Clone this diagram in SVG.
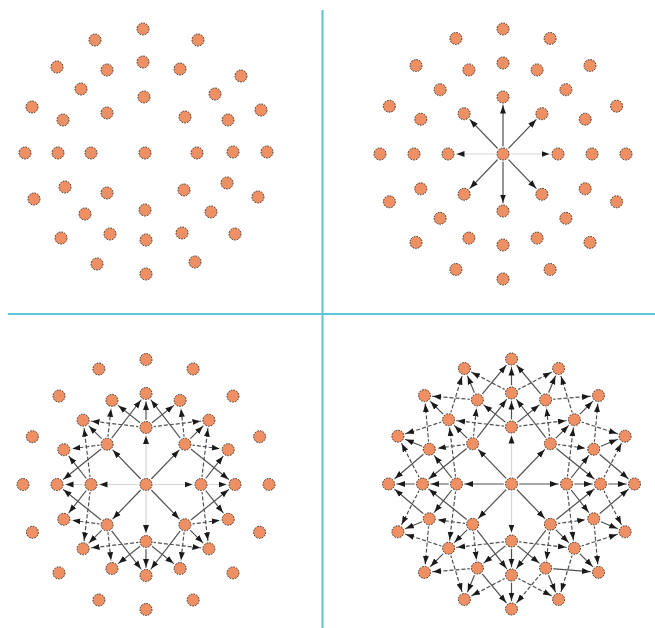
<svg xmlns="http://www.w3.org/2000/svg" xmlns:xlink="http://www.w3.org/1999/xlink" width="655" height="628" viewBox="0 0 655 628">
<style>
.div{stroke:#5cc6d8;stroke-width:2;fill:none}
.s,.d,.f{fill:none;stroke-width:1.2;marker-end:url(#ah)}
.s{stroke:#505050}
.d{stroke:#505050;stroke-dasharray:4 2}
.f{stroke:#d6d6d6}
.nc{fill:#ee9063;stroke:#3b2b22;stroke-width:1;stroke-dasharray:1.6 1.2}
.halo{fill:#fff}
</style>
<defs>
<marker id="ah" markerUnits="userSpaceOnUse" viewBox="0 0 17 10" markerWidth="17" markerHeight="10" refX="16.5" refY="5" orient="auto">
<path d="M0,2 L8,5 L0,8 Z" fill="#1a1a1a"/>
</marker>
<g id="nd"><circle class="halo" r="7.8"/><circle class="nc" r="6"/></g>
</defs>
<rect width="655" height="628" fill="#fff"/>
<g id="dividers">
<line class="div" x1="322.5" y1="10" x2="322.5" y2="628"/>
<line class="div" x1="8" y1="314" x2="655" y2="314"/>
</g>

<g id="q1">
<g id="q1-nodes">
<g id="q1-o" transform="translate(145 153)"><use href="#nd"/></g>
<g id="q1-a0" transform="translate(197 153)"><use href="#nd"/></g>
<g id="q1-a2" transform="translate(185 117)"><use href="#nd"/></g>
<g id="q1-a4" transform="translate(144 97)"><use href="#nd"/></g>
<g id="q1-a6" transform="translate(107 113)"><use href="#nd"/></g>
<g id="q1-a8" transform="translate(91 153)"><use href="#nd"/></g>
<g id="q1-a10" transform="translate(107 193)"><use href="#nd"/></g>
<g id="q1-a12" transform="translate(145 210)"><use href="#nd"/></g>
<g id="q1-a14" transform="translate(184 190)"><use href="#nd"/></g>
<g id="q1-b0" transform="translate(233 152)"><use href="#nd"/></g>
<g id="q1-b1" transform="translate(228 120)"><use href="#nd"/></g>
<g id="q1-b2" transform="translate(215 94)"><use href="#nd"/></g>
<g id="q1-b3" transform="translate(180 69)"><use href="#nd"/></g>
<g id="q1-b4" transform="translate(143 62)"><use href="#nd"/></g>
<g id="q1-b5" transform="translate(107 70)"><use href="#nd"/></g>
<g id="q1-b6" transform="translate(81 89)"><use href="#nd"/></g>
<g id="q1-b7" transform="translate(63 120)"><use href="#nd"/></g>
<g id="q1-b8" transform="translate(58 153)"><use href="#nd"/></g>
<g id="q1-b9" transform="translate(65 187)"><use href="#nd"/></g>
<g id="q1-b10" transform="translate(85 214)"><use href="#nd"/></g>
<g id="q1-b11" transform="translate(110 234)"><use href="#nd"/></g>
<g id="q1-b12" transform="translate(146 240)"><use href="#nd"/></g>
<g id="q1-b13" transform="translate(182 233)"><use href="#nd"/></g>
<g id="q1-b14" transform="translate(211 212)"><use href="#nd"/></g>
<g id="q1-b15" transform="translate(227 183)"><use href="#nd"/></g>
<g id="q1-c0" transform="translate(267 152)"><use href="#nd"/></g>
<g id="q1-c1" transform="translate(261 110)"><use href="#nd"/></g>
<g id="q1-c2" transform="translate(241 76)"><use href="#nd"/></g>
<g id="q1-c3" transform="translate(198 40)"><use href="#nd"/></g>
<g id="q1-c4" transform="translate(143 29)"><use href="#nd"/></g>
<g id="q1-c5" transform="translate(95 40)"><use href="#nd"/></g>
<g id="q1-c6" transform="translate(57 67)"><use href="#nd"/></g>
<g id="q1-c7" transform="translate(32 107)"><use href="#nd"/></g>
<g id="q1-c8" transform="translate(25 153)"><use href="#nd"/></g>
<g id="q1-c9" transform="translate(34 199)"><use href="#nd"/></g>
<g id="q1-c10" transform="translate(61 238)"><use href="#nd"/></g>
<g id="q1-c11" transform="translate(97 264)"><use href="#nd"/></g>
<g id="q1-c12" transform="translate(146 274)"><use href="#nd"/></g>
<g id="q1-c13" transform="translate(195 262)"><use href="#nd"/></g>
<g id="q1-c14" transform="translate(235 234)"><use href="#nd"/></g>
<g id="q1-c15" transform="translate(258 197)"><use href="#nd"/></g>
</g>
</g>

<g id="q2" transform="translate(503 154)">
<g id="q2-edges">
<path class="f" d="M0 0L55 0"/>
<path class="f" d="M0 0L-55 0"/>
<path class="s" d="M0 0L0-57"/>
<path class="s" d="M0 0L0 57"/>
<path class="s" d="M0 0L38.9-40.3"/>
<path class="s" d="M0 0L-38.9-40.3"/>
<path class="s" d="M0 0L-38.9 40.3"/>
<path class="s" d="M0 0L38.9 40.3"/>
</g>
<g id="q2-nodes">
<g id="q2-o"><use href="#nd"/></g>
<g id="q2-a0" transform="translate(55 0)"><use href="#nd"/></g>
<g id="q2-a2" transform="translate(38.9 -40.3)"><use href="#nd"/></g>
<g id="q2-a4" transform="translate(0 -57)"><use href="#nd"/></g>
<g id="q2-a6" transform="translate(-38.9 -40.3)"><use href="#nd"/></g>
<g id="q2-a8" transform="translate(-55 0)"><use href="#nd"/></g>
<g id="q2-a10" transform="translate(-38.9 40.3)"><use href="#nd"/></g>
<g id="q2-a12" transform="translate(0 57)"><use href="#nd"/></g>
<g id="q2-a14" transform="translate(38.9 40.3)"><use href="#nd"/></g>
<g id="q2-b0" transform="translate(89 0)"><use href="#nd"/></g>
<g id="q2-b1" transform="translate(82.2 -34.8)"><use href="#nd"/></g>
<g id="q2-b2" transform="translate(62.9 -64.3)"><use href="#nd"/></g>
<g id="q2-b3" transform="translate(34.1 -84.1)"><use href="#nd"/></g>
<g id="q2-b4" transform="translate(0 -91)"><use href="#nd"/></g>
<g id="q2-b5" transform="translate(-34.1 -84.1)"><use href="#nd"/></g>
<g id="q2-b6" transform="translate(-62.9 -64.3)"><use href="#nd"/></g>
<g id="q2-b7" transform="translate(-82.2 -34.8)"><use href="#nd"/></g>
<g id="q2-b8" transform="translate(-89 0)"><use href="#nd"/></g>
<g id="q2-b9" transform="translate(-82.2 34.8)"><use href="#nd"/></g>
<g id="q2-b10" transform="translate(-62.9 64.3)"><use href="#nd"/></g>
<g id="q2-b11" transform="translate(-34.1 84.1)"><use href="#nd"/></g>
<g id="q2-b12" transform="translate(0 91)"><use href="#nd"/></g>
<g id="q2-b13" transform="translate(34.1 84.1)"><use href="#nd"/></g>
<g id="q2-b14" transform="translate(62.9 64.3)"><use href="#nd"/></g>
<g id="q2-b15" transform="translate(82.2 34.8)"><use href="#nd"/></g>
<g id="q2-c0" transform="translate(123 0)"><use href="#nd"/></g>
<g id="q2-c1" transform="translate(113.6 -47.8)"><use href="#nd"/></g>
<g id="q2-c2" transform="translate(87 -88.4)"><use href="#nd"/></g>
<g id="q2-c3" transform="translate(47.1 -115.5)"><use href="#nd"/></g>
<g id="q2-c4" transform="translate(0 -125)"><use href="#nd"/></g>
<g id="q2-c5" transform="translate(-47.1 -115.5)"><use href="#nd"/></g>
<g id="q2-c6" transform="translate(-87 -88.4)"><use href="#nd"/></g>
<g id="q2-c7" transform="translate(-113.6 -47.8)"><use href="#nd"/></g>
<g id="q2-c8" transform="translate(-123 0)"><use href="#nd"/></g>
<g id="q2-c9" transform="translate(-113.6 47.8)"><use href="#nd"/></g>
<g id="q2-c10" transform="translate(-87 88.4)"><use href="#nd"/></g>
<g id="q2-c11" transform="translate(-47.1 115.5)"><use href="#nd"/></g>
<g id="q2-c12" transform="translate(0 125)"><use href="#nd"/></g>
<g id="q2-c13" transform="translate(47.1 115.5)"><use href="#nd"/></g>
<g id="q2-c14" transform="translate(87 88.4)"><use href="#nd"/></g>
<g id="q2-c15" transform="translate(113.6 47.8)"><use href="#nd"/></g>
</g>
</g>

<g id="q3" transform="translate(146 484.5)">
<g id="q3-edges">
<path class="f" d="M0 0L55 0"/>
<path class="f" d="M0 0L0-57"/>
<path class="f" d="M0 0L-55 0"/>
<path class="f" d="M0 0L0 57"/>
<path class="s" d="M0 0L38.9-40.3"/>
<path class="s" d="M0 0L-38.9-40.3"/>
<path class="s" d="M0 0L-38.9 40.3"/>
<path class="s" d="M0 0L38.9 40.3"/>
<path class="s" d="M38.9-40.3L62.9-64.3"/>
<path class="s" d="M38.9-40.3L89 0"/>
<path class="s" d="M38.9-40.3L0-91"/>
<path class="d" d="M38.9-40.3L82.2-34.8"/>
<path class="d" d="M38.9-40.3L34.1-84.1"/>
<path class="s" d="M-38.9-40.3L-62.9-64.3"/>
<path class="s" d="M-38.9-40.3L0-91"/>
<path class="s" d="M-38.9-40.3L-89 0"/>
<path class="d" d="M-38.9-40.3L-34.1-84.1"/>
<path class="d" d="M-38.9-40.3L-82.2-34.8"/>
<path class="s" d="M-38.9 40.3L-62.9 64.3"/>
<path class="s" d="M-38.9 40.3L-89 0"/>
<path class="s" d="M-38.9 40.3L0 91"/>
<path class="d" d="M-38.9 40.3L-82.2 34.8"/>
<path class="d" d="M-38.9 40.3L-34.1 84.1"/>
<path class="s" d="M38.9 40.3L62.9 64.3"/>
<path class="s" d="M38.9 40.3L0 91"/>
<path class="s" d="M38.9 40.3L89 0"/>
<path class="d" d="M38.9 40.3L34.1 84.1"/>
<path class="d" d="M38.9 40.3L82.2 34.8"/>
<path class="f" d="M55 0L89 0"/>
<path class="s" d="M55 0L82.2-34.8"/>
<path class="s" d="M55 0L82.2 34.8"/>
<path class="d" d="M55 0L62.9-64.3"/>
<path class="d" d="M55 0L62.9 64.3"/>
<path class="s" d="M0-57L0-91"/>
<path class="s" d="M0-57L34.1-84.1"/>
<path class="s" d="M0-57L-34.1-84.1"/>
<path class="d" d="M0-57L62.9-64.3"/>
<path class="d" d="M0-57L-62.9-64.3"/>
<path class="f" d="M-55 0L-89 0"/>
<path class="s" d="M-55 0L-82.2-34.8"/>
<path class="s" d="M-55 0L-82.2 34.8"/>
<path class="d" d="M-55 0L-62.9-64.3"/>
<path class="d" d="M-55 0L-62.9 64.3"/>
<path class="s" d="M0 57L0 91"/>
<path class="s" d="M0 57L-34.1 84.1"/>
<path class="s" d="M0 57L34.1 84.1"/>
<path class="d" d="M0 57L-62.9 64.3"/>
<path class="d" d="M0 57L62.9 64.3"/>
</g>
<g id="q3-nodes">
<g id="q3-o"><use href="#nd"/></g>
<g id="q3-a0" transform="translate(55 0)"><use href="#nd"/></g>
<g id="q3-a2" transform="translate(38.9 -40.3)"><use href="#nd"/></g>
<g id="q3-a4" transform="translate(0 -57)"><use href="#nd"/></g>
<g id="q3-a6" transform="translate(-38.9 -40.3)"><use href="#nd"/></g>
<g id="q3-a8" transform="translate(-55 0)"><use href="#nd"/></g>
<g id="q3-a10" transform="translate(-38.9 40.3)"><use href="#nd"/></g>
<g id="q3-a12" transform="translate(0 57)"><use href="#nd"/></g>
<g id="q3-a14" transform="translate(38.9 40.3)"><use href="#nd"/></g>
<g id="q3-b0" transform="translate(89 0)"><use href="#nd"/></g>
<g id="q3-b1" transform="translate(82.2 -34.8)"><use href="#nd"/></g>
<g id="q3-b2" transform="translate(62.9 -64.3)"><use href="#nd"/></g>
<g id="q3-b3" transform="translate(34.1 -84.1)"><use href="#nd"/></g>
<g id="q3-b4" transform="translate(0 -91)"><use href="#nd"/></g>
<g id="q3-b5" transform="translate(-34.1 -84.1)"><use href="#nd"/></g>
<g id="q3-b6" transform="translate(-62.9 -64.3)"><use href="#nd"/></g>
<g id="q3-b7" transform="translate(-82.2 -34.8)"><use href="#nd"/></g>
<g id="q3-b8" transform="translate(-89 0)"><use href="#nd"/></g>
<g id="q3-b9" transform="translate(-82.2 34.8)"><use href="#nd"/></g>
<g id="q3-b10" transform="translate(-62.9 64.3)"><use href="#nd"/></g>
<g id="q3-b11" transform="translate(-34.1 84.1)"><use href="#nd"/></g>
<g id="q3-b12" transform="translate(0 91)"><use href="#nd"/></g>
<g id="q3-b13" transform="translate(34.1 84.1)"><use href="#nd"/></g>
<g id="q3-b14" transform="translate(62.9 64.3)"><use href="#nd"/></g>
<g id="q3-b15" transform="translate(82.2 34.8)"><use href="#nd"/></g>
<g id="q3-c0" transform="translate(123 0)"><use href="#nd"/></g>
<g id="q3-c1" transform="translate(113.6 -47.8)"><use href="#nd"/></g>
<g id="q3-c2" transform="translate(87 -88.4)"><use href="#nd"/></g>
<g id="q3-c3" transform="translate(47.1 -115.5)"><use href="#nd"/></g>
<g id="q3-c4" transform="translate(0 -125)"><use href="#nd"/></g>
<g id="q3-c5" transform="translate(-47.1 -115.5)"><use href="#nd"/></g>
<g id="q3-c6" transform="translate(-87 -88.4)"><use href="#nd"/></g>
<g id="q3-c7" transform="translate(-113.6 -47.8)"><use href="#nd"/></g>
<g id="q3-c8" transform="translate(-123 0)"><use href="#nd"/></g>
<g id="q3-c9" transform="translate(-113.6 47.8)"><use href="#nd"/></g>
<g id="q3-c10" transform="translate(-87 88.4)"><use href="#nd"/></g>
<g id="q3-c11" transform="translate(-47.1 115.5)"><use href="#nd"/></g>
<g id="q3-c12" transform="translate(0 125)"><use href="#nd"/></g>
<g id="q3-c13" transform="translate(47.1 115.5)"><use href="#nd"/></g>
<g id="q3-c14" transform="translate(87 88.4)"><use href="#nd"/></g>
<g id="q3-c15" transform="translate(113.6 47.8)"><use href="#nd"/></g>
</g>
</g>

<g id="q4" transform="translate(511.5 484)">
<g id="q4-edges">
<path class="s" d="M0 0L55 0"/>
<path class="f" d="M0 0L0-57"/>
<path class="s" d="M0 0L-55 0"/>
<path class="f" d="M0 0L0 57"/>
<path class="s" d="M0 0L38.9-40.3"/>
<path class="s" d="M0 0L-38.9-40.3"/>
<path class="s" d="M0 0L-38.9 40.3"/>
<path class="s" d="M0 0L38.9 40.3"/>
<path class="s" d="M38.9-40.3L62.9-64.3"/>
<path class="s" d="M38.9-40.3L89 0"/>
<path class="s" d="M38.9-40.3L0-91"/>
<path class="d" d="M38.9-40.3L82.2-34.8"/>
<path class="d" d="M38.9-40.3L34.1-84.1"/>
<path class="s" d="M-38.9-40.3L-62.9-64.3"/>
<path class="s" d="M-38.9-40.3L0-91"/>
<path class="s" d="M-38.9-40.3L-89 0"/>
<path class="d" d="M-38.9-40.3L-34.1-84.1"/>
<path class="d" d="M-38.9-40.3L-82.2-34.8"/>
<path class="s" d="M-38.9 40.3L-62.9 64.3"/>
<path class="s" d="M-38.9 40.3L-89 0"/>
<path class="s" d="M-38.9 40.3L0 91"/>
<path class="d" d="M-38.9 40.3L-82.2 34.8"/>
<path class="d" d="M-38.9 40.3L-34.1 84.1"/>
<path class="s" d="M38.9 40.3L62.9 64.3"/>
<path class="s" d="M38.9 40.3L0 91"/>
<path class="s" d="M38.9 40.3L89 0"/>
<path class="d" d="M38.9 40.3L34.1 84.1"/>
<path class="d" d="M38.9 40.3L82.2 34.8"/>
<path class="s" d="M55 0L89 0"/>
<path class="s" d="M55 0L82.2-34.8"/>
<path class="s" d="M55 0L82.2 34.8"/>
<path class="d" d="M55 0L62.9-64.3"/>
<path class="d" d="M55 0L62.9 64.3"/>
<path class="s" d="M0-57L0-91"/>
<path class="s" d="M0-57L34.1-84.1"/>
<path class="s" d="M0-57L-34.1-84.1"/>
<path class="d" d="M0-57L62.9-64.3"/>
<path class="d" d="M0-57L-62.9-64.3"/>
<path class="s" d="M-55 0L-89 0"/>
<path class="s" d="M-55 0L-82.2-34.8"/>
<path class="s" d="M-55 0L-82.2 34.8"/>
<path class="d" d="M-55 0L-62.9-64.3"/>
<path class="d" d="M-55 0L-62.9 64.3"/>
<path class="s" d="M0 57L0 91"/>
<path class="s" d="M0 57L-34.1 84.1"/>
<path class="s" d="M0 57L34.1 84.1"/>
<path class="d" d="M0 57L-62.9 64.3"/>
<path class="d" d="M0 57L62.9 64.3"/>
<path class="s" d="M89 0L123 0"/>
<path class="d" d="M89 0L113.6-47.8"/>
<path class="d" d="M89 0L113.6 47.8"/>
<path class="s" d="M82.2-34.8L113.6-47.8"/>
<path class="s" d="M82.2-34.8L123 0"/>
<path class="d" d="M82.2-34.8L87-88.4"/>
<path class="s" d="M62.9-64.3L87-88.4"/>
<path class="d" d="M62.9-64.3L113.6-47.8"/>
<path class="d" d="M62.9-64.3L47.1-115.5"/>
<path class="s" d="M34.1-84.1L47.1-115.5"/>
<path class="s" d="M34.1-84.1L0-125"/>
<path class="d" d="M34.1-84.1L87-88.4"/>
<path class="s" d="M0-91L0-125"/>
<path class="d" d="M0-91L47.1-115.5"/>
<path class="d" d="M0-91L-47.1-115.5"/>
<path class="s" d="M-34.1-84.1L-47.1-115.5"/>
<path class="s" d="M-34.1-84.1L0-125"/>
<path class="d" d="M-34.1-84.1L-87-88.4"/>
<path class="s" d="M-62.9-64.3L-87-88.4"/>
<path class="d" d="M-62.9-64.3L-47.1-115.5"/>
<path class="d" d="M-62.9-64.3L-113.6-47.8"/>
<path class="s" d="M-82.2-34.8L-113.6-47.8"/>
<path class="s" d="M-82.2-34.8L-123 0"/>
<path class="d" d="M-82.2-34.8L-87-88.4"/>
<path class="s" d="M-89 0L-123 0"/>
<path class="d" d="M-89 0L-113.6-47.8"/>
<path class="d" d="M-89 0L-113.6 47.8"/>
<path class="s" d="M-82.2 34.8L-113.6 47.8"/>
<path class="s" d="M-82.2 34.8L-123 0"/>
<path class="d" d="M-82.2 34.8L-87 88.4"/>
<path class="s" d="M-62.9 64.3L-87 88.4"/>
<path class="d" d="M-62.9 64.3L-113.6 47.8"/>
<path class="d" d="M-62.9 64.3L-47.1 115.5"/>
<path class="s" d="M-34.1 84.1L-47.1 115.5"/>
<path class="s" d="M-34.1 84.1L0 125"/>
<path class="d" d="M-34.1 84.1L-87 88.4"/>
<path class="s" d="M0 91L0 125"/>
<path class="d" d="M0 91L-47.1 115.5"/>
<path class="d" d="M0 91L47.1 115.5"/>
<path class="s" d="M34.1 84.1L47.1 115.5"/>
<path class="s" d="M34.1 84.1L87 88.4"/>
<path class="d" d="M34.1 84.1L0 125"/>
<path class="s" d="M62.9 64.3L87 88.4"/>
<path class="d" d="M62.9 64.3L47.1 115.5"/>
<path class="d" d="M62.9 64.3L113.6 47.8"/>
<path class="s" d="M82.2 34.8L113.6 47.8"/>
<path class="s" d="M82.2 34.8L123 0"/>
<path class="d" d="M82.2 34.8L87 88.4"/>
</g>
<g id="q4-nodes">
<g id="q4-o"><use href="#nd"/></g>
<g id="q4-a0" transform="translate(55 0)"><use href="#nd"/></g>
<g id="q4-a2" transform="translate(38.9 -40.3)"><use href="#nd"/></g>
<g id="q4-a4" transform="translate(0 -57)"><use href="#nd"/></g>
<g id="q4-a6" transform="translate(-38.9 -40.3)"><use href="#nd"/></g>
<g id="q4-a8" transform="translate(-55 0)"><use href="#nd"/></g>
<g id="q4-a10" transform="translate(-38.9 40.3)"><use href="#nd"/></g>
<g id="q4-a12" transform="translate(0 57)"><use href="#nd"/></g>
<g id="q4-a14" transform="translate(38.9 40.3)"><use href="#nd"/></g>
<g id="q4-b0" transform="translate(89 0)"><use href="#nd"/></g>
<g id="q4-b1" transform="translate(82.2 -34.8)"><use href="#nd"/></g>
<g id="q4-b2" transform="translate(62.9 -64.3)"><use href="#nd"/></g>
<g id="q4-b3" transform="translate(34.1 -84.1)"><use href="#nd"/></g>
<g id="q4-b4" transform="translate(0 -91)"><use href="#nd"/></g>
<g id="q4-b5" transform="translate(-34.1 -84.1)"><use href="#nd"/></g>
<g id="q4-b6" transform="translate(-62.9 -64.3)"><use href="#nd"/></g>
<g id="q4-b7" transform="translate(-82.2 -34.8)"><use href="#nd"/></g>
<g id="q4-b8" transform="translate(-89 0)"><use href="#nd"/></g>
<g id="q4-b9" transform="translate(-82.2 34.8)"><use href="#nd"/></g>
<g id="q4-b10" transform="translate(-62.9 64.3)"><use href="#nd"/></g>
<g id="q4-b11" transform="translate(-34.1 84.1)"><use href="#nd"/></g>
<g id="q4-b12" transform="translate(0 91)"><use href="#nd"/></g>
<g id="q4-b13" transform="translate(34.1 84.1)"><use href="#nd"/></g>
<g id="q4-b14" transform="translate(62.9 64.3)"><use href="#nd"/></g>
<g id="q4-b15" transform="translate(82.2 34.8)"><use href="#nd"/></g>
<g id="q4-c0" transform="translate(123 0)"><use href="#nd"/></g>
<g id="q4-c1" transform="translate(113.6 -47.8)"><use href="#nd"/></g>
<g id="q4-c2" transform="translate(87 -88.4)"><use href="#nd"/></g>
<g id="q4-c3" transform="translate(47.1 -115.5)"><use href="#nd"/></g>
<g id="q4-c4" transform="translate(0 -125)"><use href="#nd"/></g>
<g id="q4-c5" transform="translate(-47.1 -115.5)"><use href="#nd"/></g>
<g id="q4-c6" transform="translate(-87 -88.4)"><use href="#nd"/></g>
<g id="q4-c7" transform="translate(-113.6 -47.8)"><use href="#nd"/></g>
<g id="q4-c8" transform="translate(-123 0)"><use href="#nd"/></g>
<g id="q4-c9" transform="translate(-113.6 47.8)"><use href="#nd"/></g>
<g id="q4-c10" transform="translate(-87 88.4)"><use href="#nd"/></g>
<g id="q4-c11" transform="translate(-47.1 115.5)"><use href="#nd"/></g>
<g id="q4-c12" transform="translate(0 125)"><use href="#nd"/></g>
<g id="q4-c13" transform="translate(47.1 115.5)"><use href="#nd"/></g>
<g id="q4-c14" transform="translate(87 88.4)"><use href="#nd"/></g>
<g id="q4-c15" transform="translate(113.6 47.8)"><use href="#nd"/></g>
</g>
</g>
</svg>
